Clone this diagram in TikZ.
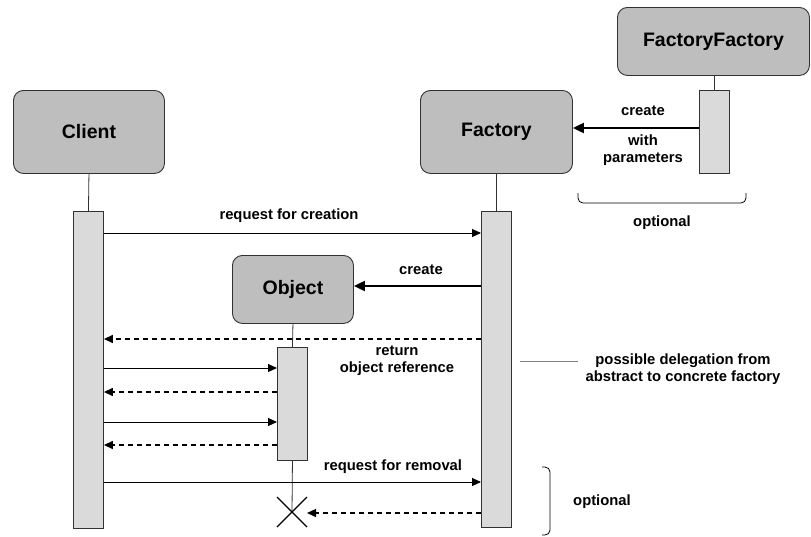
\documentclass[tikz,border=0pt]{standalone}
\usepackage{fontspec}
\setmainfont{Liberation Sans}
\usetikzlibrary{arrows.meta}
\definecolor{boxfill}{RGB}{190,190,190}
\definecolor{barfill}{RGB}{218,218,218}
\definecolor{edge}{RGB}{50,50,50}
\begin{document}
\begin{tikzpicture}[x=1pt,y=-1pt,
  actor/.style={draw=edge,line width=0.9pt,fill=boxfill,rounded corners=10pt,
    anchor=north west,inner sep=0pt,font=\bfseries\fontsize{19.5}{21}\selectfont},
  actbar/.style={draw=edge,line width=0.9pt,fill=barfill,anchor=north west,inner sep=0pt,minimum width=30pt},
  life/.style={draw=edge,line width=0.8pt},
  msg/.style={draw=black,line width=0.9pt,-{Triangle[length=9pt,width=8pt]}},
  ret/.style={draw=black,line width=1.3pt,dash pattern=on 5pt off 4pt,-{Triangle[length=9pt,width=8pt]}},
  mkmsg/.style={draw=black,line width=2pt,-{Triangle[length=11pt,width=10pt]}},
  lbl/.style={font=\bfseries\fontsize{14.8}{17}\selectfont,align=center,inner sep=0pt},
  brace/.style={draw=black,line width=0.8pt,rounded corners=5pt}]
\useasboundingbox (0,0) rectangle (811,536);

% participants
\node[actor,minimum width=151pt,minimum height=83pt] (client) at (13,90) {Client};
\node[actor,minimum width=152pt,minimum height=83pt] (factory) at (420,90) {Factory};
\node[actor,minimum width=192pt,minimum height=68pt] (ff) at (617,7) {FactoryFactory};
\node[actor,minimum width=121pt,minimum height=68pt] (object) at (232,255) {Object};

% activation bars
\node[actbar,minimum height=317pt] (cbar) at (73,211) {};
\node[actbar,minimum height=316pt] (fbar) at (481,211) {};
\node[actbar,minimum height=83pt] (ffbar) at (699,90) {};
\node[actbar,minimum height=113pt] (obar) at (277,347) {};

% end of the object's life
\coordinate (xend) at (292,512);
\coordinate (xa) at (277,497);
\coordinate (xb) at (307,527);
\coordinate (xc) at (307,497);
\coordinate (xd) at (277,527);

% lifelines
\draw[life] (client.south) -- (cbar.north);
\draw[life] (factory.south) -- (fbar.north);
\draw[life] (ff.south -| ffbar.north) -- (ffbar.north);
\draw[life] (object.south) -- (obar.north);
\draw[life] (obar.south) -- (xend);
\draw[line width=1.3pt] (xa) -- (xb) (xc) -- (xd);

% message levels
\coordinate (yff) at (0,128);
\coordinate (y1) at (0,233);
\coordinate (y2) at (0,286);
\coordinate (y3) at (0,339);
\coordinate (y4) at (0,368);
\coordinate (y5) at (0,392);
\coordinate (y6) at (0,422);
\coordinate (y7) at (0,445);
\coordinate (y8) at (0,482);
\coordinate (y9) at (0,513);

% messages
\draw[mkmsg] (ffbar.west |- yff) -- (factory.east |- yff);
\draw[msg] (cbar.east |- y1) -- (fbar.west |- y1);
\draw[mkmsg] (fbar.west |- y2) -- (object.east |- y2);
\draw[ret] (fbar.west |- y3) -- (cbar.east |- y3);
\draw[msg] (cbar.east |- y4) -- (obar.west |- y4);
\draw[ret] (obar.west |- y5) -- (cbar.east |- y5);
\draw[msg] (cbar.east |- y6) -- (obar.west |- y6);
\draw[ret] (obar.west |- y7) -- (cbar.east |- y7);
\draw[msg] (cbar.east |- y8) -- (fbar.west |- y8);
\draw[ret] (fbar.west |- y9) -- (xc |- y9);

% message labels
\node[lbl] (l1) at (643,111) {create};
\node[lbl] (l2) at (643,150) {with\\parameters};
\node[lbl] (l3) at (289,216) {request for creation};
\node[lbl] (l4) at (421,270) {create};
\node[lbl] (l5) at (397,361) {return\\object reference};
\node[lbl] (l6) at (393,467) {request for removal};

% notes
\coordinate (n1) at (520,361);
\coordinate (n2) at (578,361);
\draw[draw=gray,line width=0.8pt] (n1) -- (n2);
\node[lbl] (l7) at (683,369) {possible delegation from\\abstract to concrete factory};

\coordinate (b1) at (578,193);
\coordinate (b2) at (578,203);
\coordinate (b3) at (746,203);
\coordinate (b4) at (746,193);
\draw[brace] (b1) -- (b2) -- (b3) -- (b4);
\node[lbl] (l8) at (662,223) {optional};

\coordinate (c1) at (542,467);
\coordinate (c2) at (550,467);
\coordinate (c3) at (550,535);
\coordinate (c4) at (542,535);
\draw[brace] (c1) -- (c2) -- (c3) -- (c4);
\node[lbl] (l9) at (602,502) {optional};
\end{tikzpicture}
\end{document}
